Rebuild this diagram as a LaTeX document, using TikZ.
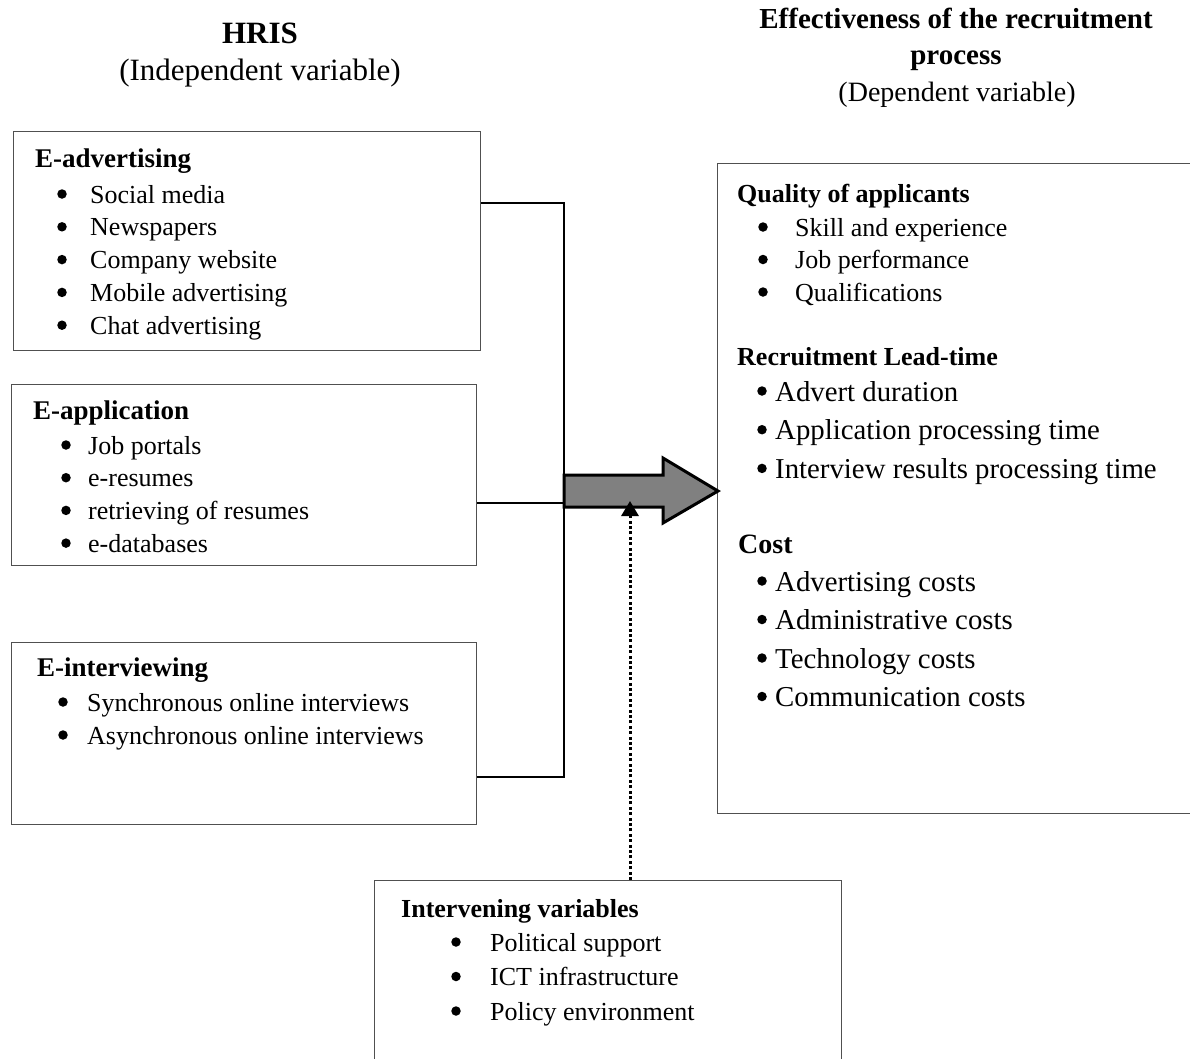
\documentclass[tikz,border=0pt]{standalone}
\usepackage{fontspec}
\setmainfont{Liberation Serif}
\usetikzlibrary{arrows.meta}
\definecolor{arrowfill}{RGB}{128, 128, 128}
\definecolor{boxline}{RGB}{80, 80, 80}
\tikzset{
    every node/.style={inner sep=0pt},
    varbox/.style={draw=boxline, line width=1.2pt, anchor=north west},
    head/.style={anchor=base west, font=\bfseries\fontsize{27}{32}\selectfont},
    entry/.style={anchor=base west, font=\fontsize{26}{32}\selectfont},
    bigentry/.style={anchor=base west, font=\fontsize{28.8}{34}\selectfont},
    dot/.style={circle, fill, minimum size=9.5pt, yshift=9pt},
    link/.style={line width=1.5pt},
    dotlink/.style={line width=3pt, dash pattern=on 3pt off 2.4pt,
        -{Triangle[width=17pt, length=15pt]}},
}

\begin{document}
\begin{tikzpicture}[x=1pt, y=-1pt]
    \useasboundingbox (0, 0) rectangle (1190, 1058);
    % titles
    \node[anchor=base, font=\bfseries\fontsize{31}{36}\selectfont] (hris) at (260, 43) {HRIS};
    \node[anchor=base, font=\fontsize{31}{36}\selectfont] (indep) at (260, 80) {(Independent variable)};
    \node[anchor=base, font=\bfseries\fontsize{29}{34}\selectfont] (eff) at (956, 28)
        {Effectiveness of the recruitment};
    \node[anchor=base, font=\bfseries\fontsize{29}{34}\selectfont] (proc) at (956, 64) {process};
    \node[anchor=base, font=\fontsize{28}{34}\selectfont] (dep) at (957, 101) {(Dependent variable)};

    % boxes
    \node[varbox, minimum width=467pt, minimum height=219pt] (adv) at (13, 131) {};
    \node[varbox, minimum width=465pt, minimum height=181pt] (app) at (11, 384) {};
    \node[varbox, minimum width=465pt, minimum height=182pt] (intv) at (11, 642) {};
    \node[varbox, minimum width=490pt, minimum height=650pt] (eff box) at (717, 163) {};
    \node[varbox, minimum width=467pt, minimum height=200pt] (ivar) at (374, 880) {};

    % E-advertising
    \node[head] at (35, 167) {E-advertising};
    \foreach \t [count=\i] in {Social media, Newspapers, Company website,
            Mobile advertising, Chat advertising} {
        \node[dot] at (62, {203+(\i-1)*32.8}) {};
        \node[entry] at (90, {203+(\i-1)*32.8}) {\t};
    }

    % E-application
    \node[head] at (33, 419) {E-application};
    \foreach \t [count=\i] in {Job portals, e-resumes, retrieving of resumes, e-databases} {
        \node[dot] at (66, {454+(\i-1)*32.7}) {};
        \node[entry] at (88, {454+(\i-1)*32.7}) {\t};
    }

    % E-interviewing
    \node[head] at (37, 676) {E-interviewing};
    \foreach \t [count=\i] in {Synchronous online interviews, Asynchronous online interviews} {
        \node[dot] at (63, {711+(\i-1)*33}) {};
        \node[entry] at (87, {711+(\i-1)*33}) {\t};
    }

    % dependent side
    \node[head, font=\bfseries\fontsize{26}{32}\selectfont] at (737, 202) {Quality of applicants};
    \foreach \t [count=\i] in {Skill and experience, Job performance, Qualifications} {
        \node[dot] at (763, {236+(\i-1)*32.5}) {};
        \node[entry] at (795, {236+(\i-1)*32.5}) {\t};
    }
    \node[head, font=\bfseries\fontsize{26}{32}\selectfont] at (737, 365) {Recruitment Lead-time};
    \foreach \t [count=\i] in {Advert duration, Application processing time,
            Interview results processing time} {
        \node[dot, yshift=1pt] at (762, {401+(\i-1)*38.7}) {};
        \node[bigentry] at (775, {401+(\i-1)*38.7}) {\t};
    }
    \node[head, font=\bfseries\fontsize{28}{34}\selectfont] at (738, 553) {Cost};
    \foreach \t [count=\i] in {Advertising costs, Administrative costs, Technology costs,
            Communication costs} {
        \node[dot, yshift=1pt] at (762, {591+(\i-1)*38.5}) {};
        \node[bigentry] at (775, {591+(\i-1)*38.5}) {\t};
    }

    % intervening
    \node[head, font=\bfseries\fontsize{26}{32}\selectfont] at (401, 917) {Intervening variables};
    \foreach \t [count=\i] in {Political support, ICT infrastructure, Policy environment} {
        \node[dot] at (456, {951+(\i-1)*34.5}) {};
        \node[entry] at (490, {951+(\i-1)*34.5}) {\t};
    }

    % connectors
    \coordinate (bartop) at (564, 203);
    \coordinate (barbot) at (564, 777);
    \coordinate (joint) at (564, 503);
    \draw[link] (adv.east |- bartop) -- (bartop) -- (barbot) -- (intv.east |- barbot);
    \draw[link] (app.east |- joint) -- (joint);
    \draw[line width=3pt, fill=arrowfill, line join=miter] (564, 475) -- (663, 475) -- (663, 458)
        -- (718, 491) -- (663, 523) -- (663, 507) -- (564, 507) -- cycle;
    \coordinate (dottip) at (630, 501);
    \draw[dotlink] (dottip |- ivar.north) -- (dottip);
\end{tikzpicture}
\end{document}
